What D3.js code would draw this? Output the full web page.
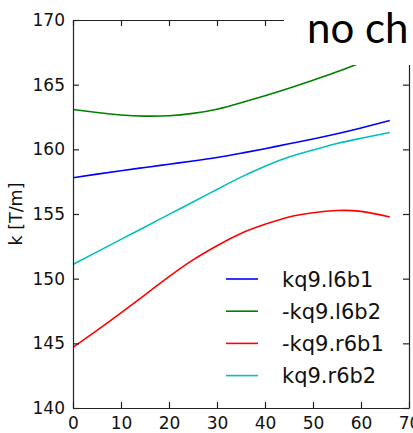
<!DOCTYPE html>
<html>
<head>
<meta charset="utf-8">
<script src="https://cdnjs.cloudflare.com/ajax/libs/d3/7.8.5/d3.min.js"></script>
<style>
	body{margin:0;background:#fff;}
	svg{display:block;}
	.axis text{font-family:'DejaVu Sans',sans-serif;font-size:17px;fill:#111;}
	.axis path,.axis line{stroke:#222;stroke-width:1.2px;}
	.series{fill:none;stroke-width:1.6px;}
	.legend text{font-family:'DejaVu Sans',sans-serif;font-size:21px;fill:#111;}
	.ylabel{font-family:'DejaVu Sans',sans-serif;font-size:17.5px;fill:#111;}
	.title{font-family:Lato,'Open Sans',sans-serif;font-size:42px;fill:#000;}
</style>
</head>
<body>
<div id="plot"></div>
<script>
//data: position s vs gradient k
var sPos = [0,5,10,15,20,25,30,35,40,45,50,55,60,66];
var kL6B1 = [157.8,158.08,158.35,158.6,158.85,159.1,159.37,159.7,160.05,160.43,160.8,161.2,161.65,162.23];
var kL6B2 = [163.08,162.85,162.66,162.57,162.6,162.78,163.1,163.6,164.15,164.73,165.35,166.0,166.7,167.5];
var kR6B1 = [144.69,146.0,147.35,148.75,150.15,151.45,152.55,153.5,154.2,154.77,155.1,155.27,155.2,154.77];
var kR6B2 = [151.1,152.07,153.04,154.0,154.97,155.93,156.9,157.85,158.7,159.4,159.95,160.45,160.85,161.3];
var seriesNames = ['kq9.l6b1','-kq9.l6b2','-kq9.r6b1','kq9.r6b2'];
var seriesColors = ['#0000ff','#008000','#ff0000','#00bfbf'];
var xTicks = [0,10,20,30,40,50,60,70];
var yTicks = [140,145,150,155,160,165,170];
var yLabel = 'k [T/m]';
var titleText = 'no ch';

var W = 413, H = 433;
var m = {t:20,r:4,b:25,l:73},
	w = W - m.l - m.r,
	h = H - m.t - m.b;

var svg = d3.select('#plot').append('svg')
	.attr('width',W)
	.attr('height',H);
var plot = svg.append('g')
	.attr('class','canvas')
	.attr('transform','translate('+m.l+','+m.t+')');

var scaleX = d3.scaleLinear().domain([0,70]).range([0,w]),
	scaleY = d3.scaleLinear().domain([140,170]).range([h,0]);

var allSeries = [kL6B1,kL6B2,kR6B1,kR6B2].map(function(vals,i){
	return {name:seriesNames[i],color:seriesColors[i],
		values:vals.map(function(v,j){return {s:sPos[j],k:v}})};
});

var line = d3.line()
	.x(function(d){return scaleX(d.s)})
	.y(function(d){return scaleY(d.k)})
	.curve(d3.curveNatural);

plot.selectAll('.series')
	.data(allSeries)
	.enter()
	.append('path').attr('class','series')
	.attr('stroke',function(d){return d.color})
	.attr('d',function(d){return line(d.values)});

//axes: ticks pointing inward on all four sides
var TICK = 6;
var xAxis = d3.axisBottom(scaleX).tickValues(xTicks).tickSizeInner(-TICK).tickSizeOuter(0).tickPadding(9);
var yAxis = d3.axisLeft(scaleY).tickValues(yTicks).tickSizeInner(-TICK).tickSizeOuter(0).tickPadding(8);
var xTop = d3.axisTop(scaleX).tickValues(xTicks).tickSizeInner(-TICK).tickSizeOuter(0).tickFormat('');
var yRight = d3.axisRight(scaleY).tickValues(yTicks).tickSizeInner(-TICK).tickSizeOuter(0).tickFormat('');

plot.append('g').attr('class','axis axis-x')
	.attr('transform','translate(0,'+h+')')
	.call(xAxis);
plot.append('g').attr('class','axis axis-y')
	.call(yAxis);
plot.append('g').attr('class','axis axis-top')
	.call(xTop);
plot.append('g').attr('class','axis axis-right')
	.attr('transform','translate('+w+',0)')
	.call(yRight);
plot.selectAll('.axis-x .tick text').attr('dy','0.71em');

//y label
svg.append('text').attr('class','ylabel')
	.attr('transform','translate(22,'+(m.t+h/2)+') rotate(-90)')
	.attr('text-anchor','middle')
	.text(yLabel);

//legend, no frame
var legend = plot.append('g').attr('class','legend')
	.attr('transform','translate(153,259)');
var items = legend.selectAll('.item')
	.data(allSeries)
	.enter()
	.append('g').attr('class','item')
	.attr('transform',function(d,i){return 'translate(0,'+(i*32.2)+')'});
items.append('line')
	.attr('x1',0).attr('x2',32)
	.attr('stroke',function(d){return d.color})
	.attr('stroke-width',1.6);
items.append('text')
	.attr('x',56).attr('dy','0.36em')
	.text(function(d){return d.name});

//white patch with the cut-off title, covering the top right corner
svg.append('rect')
	.attr('x',284).attr('y',0)
	.attr('width',W-284).attr('height',65)
	.attr('fill','#fff');
svg.append('text').attr('class','title')
	.attr('x',307).attr('y',43)
	.text(titleText);
</script>
</body>
</html>
